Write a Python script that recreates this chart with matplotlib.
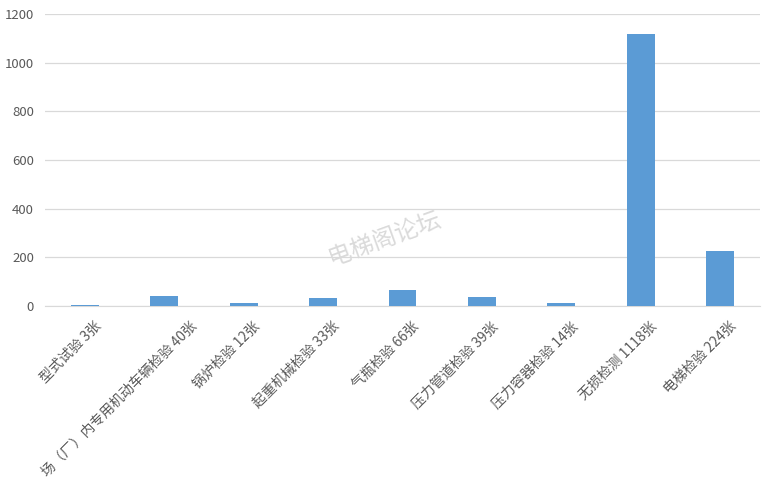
import matplotlib.pyplot as plt
from matplotlib.transforms import ScaledTranslation

plt.rcParams['font.family'] = ['Noto Sans CJK SC', 'DejaVu Sans']

# 类别与数量
labels = ['型式试验 3张', '场（厂）内专用机动车辆检验 40张', '锅炉检验 12张',
          '起重机械检验 33张', '气瓶检验 66张', '压力管道检验 39张',
          '压力容器检验 14张', '无损检测 1118张', '电梯检验 224张']
counts = [3, 40, 12, 33, 66, 39, 14, 1118, 224]
yticks = [0, 200, 400, 600, 800, 1000, 1200]

fig = plt.figure(figsize=(7.67, 4.87), dpi=100)
ax = fig.add_axes([45 / 767, (487 - 306) / 487, 715 / 767, 292 / 487])

x = range(len(counts))
ax.bar(x, counts, width=0.35, color='#5b9bd5', zorder=3)

ax.set_xlim(-0.5, len(counts) - 0.5)
ax.set_ylim(0, 1200)
ax.set_yticks(yticks)
ax.yaxis.grid(True, color='#d9d9d9', linewidth=0.9, zorder=0)
for s in ['top', 'right', 'left']:
    ax.spines[s].set_visible(False)
ax.spines['bottom'].set_color('#d9d9d9')
ax.tick_params(axis='both', length=0, colors='#595959', labelsize=9.5)
ax.tick_params(axis='y', pad=8)

ax.set_xticks(list(x))
ax.set_xticklabels(labels, rotation=45, ha='right', va='top',
                   rotation_mode='anchor', color='#595959', fontsize=10)

# 标签整体向右下偏移一点（长标签偏移更多）
for i, t in enumerate(ax.get_xticklabels()):
    dx = 0.26 if i == 1 else 0.09
    t.set_transform(t.get_transform() +
                    ScaledTranslation(dx, -0.08, fig.dpi_scale_trans))

# 水印
fig.text(0.502, 0.51, '电梯阁论坛', fontsize=17, color='#dadada',
         rotation=20, ha='center', va='center', style='italic')

fig.savefig('out.png', dpi=100)
